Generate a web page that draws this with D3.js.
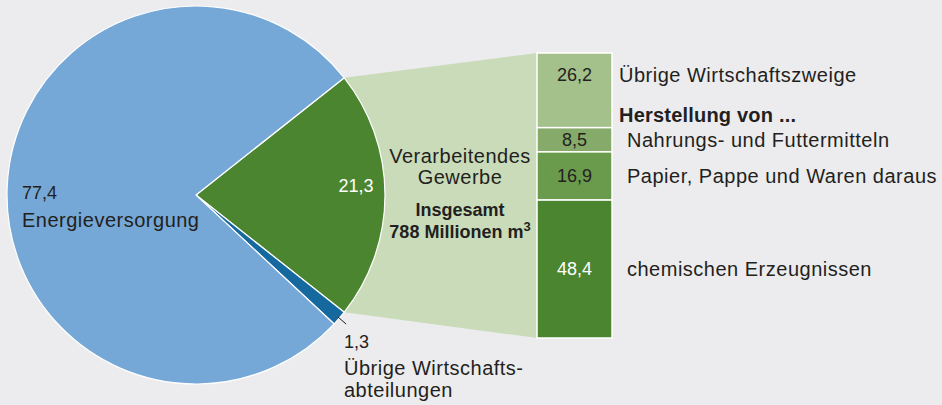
<!DOCTYPE html>
<html>
<head>
<meta charset="utf-8">
<script src="https://cdn.jsdelivr.net/npm/d3@7"></script>
<style>
  html, body { margin: 0; padding: 0; background: #ececee; }
  svg text { font-family: "Liberation Sans", Arial, Helvetica, sans-serif; fill: #231f20; }
  .lbl { font-size: 20px; letter-spacing: 0.5px; }
  .num { font-size: 18px; }
  .bold { font-weight: bold; }
</style>
</head>
<body>
<div id="chart"></div>
<script>
const width = 942;
const height = 405;

// main pie: share of water use in percent
const pieNames = ["Verarbeitendes Gewerbe", "Übrige Wirtschaftsabteilungen", "Energieversorgung"];
const pieValues = [21.3, 1.3, 77.4];
const pieColors = ["#4c8530", "#16699f", "#75a8d6"];

// breakdown of the manufacturing share, top to bottom
const barNames = ["Übrige Wirtschaftszweige", "Nahrungs- und Futtermitteln",
    "Papier, Pappe und Waren daraus", "chemischen Erzeugnissen"];
const barValues = [26.2, 8.5, 16.9, 48.4];
const barColors = ["#a4c08b", "#86aa6a", "#6a9a4c", "#4c8530"];

const fmt = v => String(v).replace(".", ",");

const cx = 196, cy = 195, radius = 189;

const svg = d3.select("#chart")
    .append("svg")
        .attr("width", width)
        .attr("height", height);

// pie layout, manufacturing slice centered on the right side
const greenSpan = pieValues[0] / d3.sum(pieValues) * 2 * Math.PI;
const start = Math.PI / 2 - greenSpan / 2;
const pie = d3.pie().sort(null)
    .startAngle(start)
    .endAngle(start + 2 * Math.PI);
const arcs = pie(pieValues);

const arc = d3.arc().innerRadius(0).outerRadius(radius);

// bar scale
const y = d3.scaleLinear().domain([0, d3.sum(barValues)]).range([53, 338]);
const barX = 537, barW = 75;

// connector between slice and bar
const a0 = arcs[0].startAngle, a1 = arcs[0].endAngle;
const pt = (a, r) => [cx + r * Math.sin(a), cy - r * Math.cos(a)];
const p0 = pt(a0, radius), p1 = pt(a1, radius);
svg.append("polygon")
    .attr("points", [p0, [barX, y(0)], [barX, y(d3.sum(barValues))], p1].map(p => p.join(",")).join(" "))
    .attr("fill", "#c9dbb9");

// pie slices
const g = svg.append("g").attr("transform", `translate(${cx},${cy})`);
g.selectAll("path")
    .data(arcs)
    .join("path")
        .attr("d", arc)
        .attr("fill", (d, i) => pieColors[i])
        .attr("stroke", "#fff")
        .attr("stroke-width", 1.2)
        .attr("stroke-linejoin", "round");

// stacked bar
const stacked = barValues.map((v, i) => ({
    v, i, y0: d3.sum(barValues.slice(0, i)), y1: d3.sum(barValues.slice(0, i + 1))
}));
svg.append("g")
    .selectAll("rect")
    .data(stacked)
    .join("rect")
        .attr("x", barX)
        .attr("y", d => y(d.y0))
        .attr("width", barW)
        .attr("height", d => y(d.y1) - y(d.y0))
        .attr("fill", d => barColors[d.i])
        .attr("stroke", "#fff")
        .attr("stroke-width", 1.5);

// value rows: first row sits near the top of its block, others centered
const rowY = d => d.i === 0 ? y(d.y0) + 28 : (y(d.y0) + y(d.y1)) / 2 + 6;
svg.append("g")
    .selectAll("text")
    .data(stacked)
    .join("text")
        .attr("class", "num")
        .attr("x", barX + barW / 2)
        .attr("y", rowY)
        .attr("text-anchor", "middle")
        .style("fill", d => d.i === 3 ? "#fff" : "#231f20")
        .text(d => fmt(d.v));

svg.append("g")
    .selectAll("text")
    .data(stacked)
    .join("text")
        .attr("class", "lbl")
        .attr("x", d => d.i === 0 ? 619 : 627)
        .attr("y", d => rowY(d) + 1)
        .text(d => barNames[d.i]);

svg.append("text")
    .attr("class", "lbl bold")
    .attr("x", 619)
    .attr("y", 122)
    .style("letter-spacing", "0.2px")
    .text("Herstellung von ...");

// slice labels
const mid = d3.arc().innerRadius(131).outerRadius(189);
const c0 = mid.centroid(arcs[0]);
svg.append("text")
    .attr("class", "num")
    .attr("x", cx + c0[0])
    .attr("y", cy + c0[1] - 3)
    .attr("text-anchor", "middle")
    .style("fill", "#fff")
    .text(fmt(pieValues[0]));

svg.append("text").attr("class", "num").attr("x", 22).attr("y", 199).text(fmt(pieValues[2]));
svg.append("text").attr("class", "lbl").attr("x", 22).attr("y", 227).text(pieNames[2]);

const center = svg.append("g").attr("text-anchor", "middle");
center.append("text").attr("class", "lbl").attr("x", 460).attr("y", 163).text("Verarbeitendes");
center.append("text").attr("class", "lbl").attr("x", 460).attr("y", 184).text("Gewerbe");
center.append("text").attr("class", "num bold").attr("x", 460).attr("y", 216).text("Insgesamt");
const tot = center.append("text").attr("class", "num bold").attr("x", 460).attr("y", 238);
tot.append("tspan").text("788 Millionen m");
tot.append("tspan").attr("dy", -7).style("font-size", "13px").text("3");

// small slice with leader line
const am = (arcs[1].startAngle + arcs[1].endAngle) / 2;
const l0 = pt(am, radius - 2), l1 = pt(am, radius + 9);
svg.append("line")
    .attr("x1", l0[0]).attr("y1", l0[1])
    .attr("x2", l1[0]).attr("y2", l1[1])
    .attr("stroke", "#231f20")
    .attr("stroke-width", 1);
svg.append("text").attr("class", "num").attr("x", 344).attr("y", 348).text(fmt(pieValues[1]));
svg.append("text").attr("class", "lbl").attr("x", 344).attr("y", 375).text("Übrige Wirtschafts-");
svg.append("text").attr("class", "lbl").attr("x", 344).attr("y", 397).text("abteilungen");
</script>
</body>
</html>
